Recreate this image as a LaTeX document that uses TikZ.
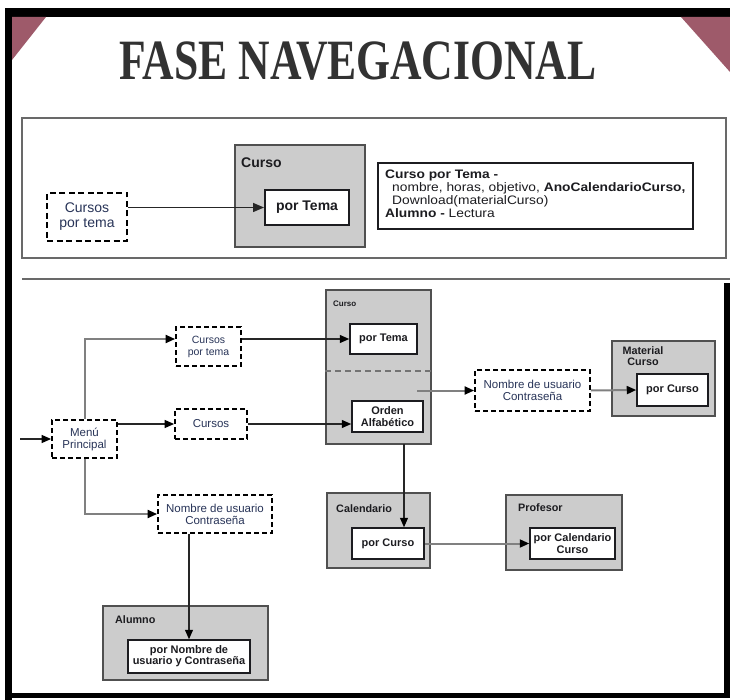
\documentclass[tikz,border=0pt]{standalone}
\usepackage{fontspec}
\setmainfont{Liberation Sans}
\newfontfamily\titlefont{Liberation Serif}
\newfontfamily\notefont[FakeStretch=1.12]{Liberation Sans}
\usetikzlibrary{arrows.meta,calc}

\definecolor{cornerred}{RGB}{158,90,106}
\definecolor{boxgray}{RGB}{204,204,204}
\definecolor{edgegray}{RGB}{80,80,80}
\definecolor{panelgray}{RGB}{105,105,105}
\definecolor{inkblue}{RGB}{40,52,88}
\definecolor{inkdark}{RGB}{28,28,32}
\definecolor{titleink}{RGB}{50,50,50}

\tikzset{
  panel/.style={draw=panelgray, line width=1.5pt},
  group/.style={draw=edgegray, fill=boxgray, line width=1.6pt, inner sep=0pt},
  grouplabel/.style={inner sep=0pt, text=inkdark, font=\fontsize{10.8}{11}\selectfont\bfseries},
  screen/.style={draw=inkdark, fill=white, line width=1.5pt, inner sep=0pt, align=center,
    text=inkdark, font=\fontsize{11}{12}\selectfont\bfseries},
  access/.style={draw=black, fill=white, dashed, dash pattern=on 5pt off 3pt, line width=1.8pt,
    inner sep=0pt, align=center, text=inkblue, font=\fontsize{11.5}{12}\selectfont},
  link/.style={draw=black!85, line width=1.3pt, -{Triangle[length=9.5pt,width=8pt,color=black]}},
  glink/.style={draw=black!50, line width=2pt, -{Triangle[length=9.5pt,width=8pt,color=black]}},
}

\begin{document}
\begin{tikzpicture}[x=1pt,y=-1pt]
\useasboundingbox (0,0) rectangle (730,700);
\fill[white] (0,0) rectangle (730,700);

% outer frame
\fill[black] (5,8) rectangle (730,17);
\fill[black] (5,8) rectangle (12,700);
\fill[black] (724,283) rectangle (730,698);
\fill[black] (12,693) rectangle (730,698);
\fill[cornerred] (12,17) -- (46,17) -- (12,60) -- cycle;
\fill[cornerred] (681,17) -- (730,17) -- (730,72) -- cycle;

% title
\node[text=titleink, inner sep=0pt] (title) at (358,61)
  {\titlefont\fontsize{57}{57}\selectfont\bfseries\scalebox{0.765}[1]{FASE NAVEGACIONAL}};

% upper panel
\draw[panel] (22,118) rectangle (726,258);
\draw[panel, line width=2pt] (22,279) -- (730,279);

\node[access, line width=2.2pt, dash pattern=on 6pt off 3.5pt, minimum width=80pt, minimum height=48pt,
  font=\fontsize{14}{15}\selectfont] (cpt1) at (87,217) {Cursos\\por tema};
\node[group, minimum width=130pt, minimum height=102pt] (curso1) at (300,196) {};
\node[grouplabel, anchor=west, font=\fontsize{14}{14}\selectfont\bfseries] (curso1t) at (241,163) {Curso};
\node[screen, line width=2pt, minimum width=84pt, minimum height=35pt,
  font=\fontsize{14}{14}\selectfont\bfseries] (ptema1) at (307,207.5) {por Tema};
\draw[link, line width=1.5pt, -{Triangle[length=11pt,width=9pt]}] (cpt1.east |- ptema1.west) -- (ptema1.west);

\node[draw=inkdark, line width=1.6pt, minimum width=315pt, minimum height=66pt, inner sep=0pt] (info) at (535.5,196) {};
\node[anchor=north west, inner sep=0pt, align=left, text=inkdark,
  font=\notefont\fontsize{12.3}{13}\selectfont] (infotext) at (385,169.5)
  {\textbf{Curso por Tema -}\\
   \hspace*{7pt}nombre, horas, objetivo, \textbf{AnoCalendarioCurso,}\\
   \hspace*{7pt}Download(materialCurso)\\
   \textbf{Alumno -} Lectura};

% lower panel: containers
\node[group, minimum width=105pt, minimum height=154pt] (curso2) at (378.5,367) {};
\node[grouplabel, anchor=west, font=\fontsize{8}{8}\selectfont\bfseries] (curso2t) at (333,304) {Curso};
\coordinate (c2sep) at (0,371);
\draw[draw=black!55, line width=1.5pt, dash pattern=on 6pt off 4pt]
  (curso2.west |- c2sep) -- (curso2.east |- c2sep);

\node[group, minimum width=103pt, minimum height=75pt] (matcurso) at (663.5,378.5) {};
\node[grouplabel, anchor=north, align=center] (matcursot) at (643,346.5) {Material\\Curso};

\node[group, minimum width=103pt, minimum height=75pt] (calend) at (378.5,530.5) {};
\node[grouplabel, anchor=west] (calendt) at (336,509) {Calendario};

\node[group, minimum width=116pt, minimum height=75pt] (prof) at (564,532.5) {};
\node[grouplabel, anchor=west] (proft) at (518,508) {Profesor};

\node[group, minimum width=165pt, minimum height=74pt] (alumno) at (185.5,643) {};
\node[grouplabel, anchor=west] (alumnot) at (115,620) {Alumno};

% lower panel: screens
\node[screen, minimum width=67pt, minimum height=30pt] (ptema2) at (383.5,339) {por Tema};
\node[screen, minimum width=71pt, minimum height=31pt] (orden) at (387.5,416.5) {Orden\\Alfabético};
\node[screen, minimum width=71pt, minimum height=32pt] (pcmat) at (672.5,390) {por Curso};
\node[screen, minimum width=72pt, minimum height=31pt] (ptcal) at (388,543.5) {por Curso};
\node[screen, minimum width=85pt, minimum height=31pt] (pcprof) at (572.5,543.5) {por Calendario\\Curso};
\node[screen, minimum width=122pt, minimum height=33pt, font=\fontsize{11}{11}\selectfont\bfseries]
  (pnom) at (189,656.5) {por Nombre de\\usuario y Contraseña};

% lower panel: access points
\node[access, minimum width=65pt, minimum height=38pt] (menu) at (84.5,439) {Menú\\Principal};
\node[access, minimum width=65pt, minimum height=39pt, font=\fontsize{10.5}{12}\selectfont] (cpt2) at (208.5,346.5) {Cursos\\por tema};
\node[access, minimum width=72pt, minimum height=30pt] (cursos) at (211,424) {Cursos};
\node[access, minimum width=114pt, minimum height=38pt] (nom1) at (215,514) {Nombre de usuario\\Contraseña};
\node[access, minimum width=115pt, minimum height=41pt] (nom2) at (532.5,390.5) {Nombre de usuario\\Contraseña};

% connectors
\coordinate (entry) at (20,439);
\draw[link] (entry) -- (menu.west);
\draw[glink] (menu.north) |- (cpt2.west |- ptema2.west);
\draw[link] (cpt2.east |- ptema2.west) -- (ptema2.west);
\draw[link] (menu.east |- cursos.west) -- (cursos.west);
\draw[link] (cursos.east) -- (cursos.east -| orden.west);
\draw[glink] (menu.south) |- (nom1.west);
\draw[link] (nom1.south -| pnom.north) -- (pnom.north);

\coordinate (c2out) at (417,390.5);
\draw[glink] (c2out) -- (nom2.west);
\draw[glink] (nom2.east) -- (pcmat.west);

\coordinate (c2drop) at (404,444);
\draw[link] (c2drop) -- (c2drop |- ptcal.north);
\draw[glink] (ptcal.east) -- (pcprof.west);
\end{tikzpicture}
\end{document}
